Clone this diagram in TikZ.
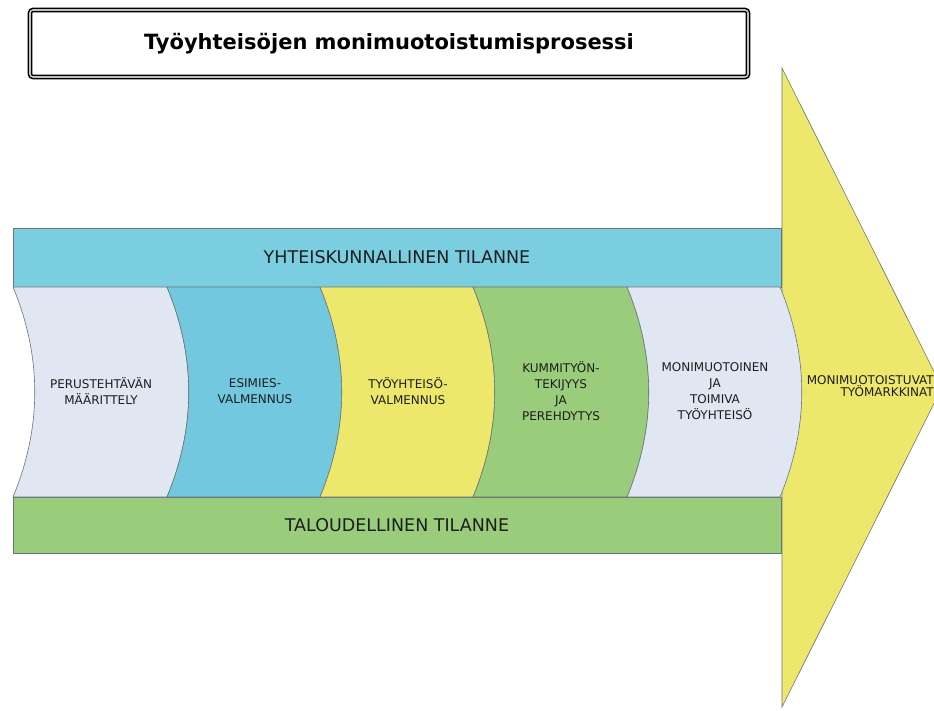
\documentclass[tikz,border=0pt]{standalone}
\usepackage{fontspec}
\setmainfont{DejaVu Sans}
\usepackage{xcolor}
\usepackage{tikz}
\usetikzlibrary{positioning}
\definecolor{Ink}{HTML}{1E1E1E}
\definecolor{Edge}{HTML}{6B7478}
\definecolor{SoftLav}{HTML}{E0E6F2}
\definecolor{Cyan}{HTML}{72C8DF}
\definecolor{BandCyan}{HTML}{7BCDE0}
\definecolor{Sun}{HTML}{EDE86C}
\definecolor{Leaf}{HTML}{99CC7B}

\begin{document}
\begin{tikzpicture}[x=1pt,y=-1pt,
    frame/.style={rectangle,draw=black,line width=1.5pt,double=gray!50,double distance=1.6pt,rounded corners=3pt,minimum width=718pt,minimum height=67pt,font=\fontsize{21}{24}\selectfont\bfseries},
    band/.style={rectangle,draw=Edge,line width=0.5pt,minimum width=768pt,align=center,text=Ink,font=\fontsize{17.5}{20}\selectfont},
    phase/.style={align=center,inner sep=0pt,text=Ink,font=\fontsize{12}{16}\selectfont},
    segment/.style={draw=Edge,line width=0.6pt},
]
\useasboundingbox (0,0) rectangle (934,711);
\clip (0,0) rectangle (934,711);
\fill[white] (0,0) rectangle (934,711);

\node[frame] (title) at (389,43.5) {Työyhteisöjen monimuotoistumisprosessi};

\path[draw=Edge,line width=0.6pt,fill=Sun] (782,68) -- (942,387.5) -- (782,707) -- cycle;

\node[band,fill=BandCyan,minimum height=59pt] (social) at (397,257.5) {YHTEISKUNNALLINEN TILANNE};
\node[band,fill=Leaf,minimum height=56pt,below=210pt of social] (economy) {TALOUDELLINEN TILANNE};

\path[segment,fill=SoftLav] (13,287) .. controls (42,357) and (42,427) .. (13,497) -- (167,497) .. controls (196,427) and (196,357) .. (167,287) -- cycle;
\path[segment,fill=Cyan] (167,287) .. controls (196,357) and (196,427) .. (167,497) -- (320,497) .. controls (349,427) and (349,357) .. (320,287) -- cycle;
\path[segment,fill=Sun] (320,287) .. controls (349,357) and (349,427) .. (320,497) -- (473,497) .. controls (502,427) and (502,357) .. (473,287) -- cycle;
\path[segment,fill=Leaf] (473,287) .. controls (502,357) and (502,427) .. (473,497) -- (627,497) .. controls (656,427) and (656,357) .. (627,287) -- cycle;
\path[segment,fill=SoftLav] (627,287) .. controls (656,357) and (656,427) .. (627,497) -- (780,497) .. controls (809,427) and (809,357) .. (780,287) -- cycle;

\node[phase] (define) at (101,391) {PERUSTEHTÄVÄN\\MÄÄRITTELY};
\node[phase] (lead) at (255,391) {ESIMIES-\\VALMENNUS};
\node[phase] (team) at (408,391) {TYÖYHTEISÖ-\\VALMENNUS};
\node[phase] (mentor) at (561,391) {KUMMITYÖN-\\TEKIJYYS\\JA\\PEREHDYTYS};
\node[phase] (diverse) at (715,391) {MONIMUOTOINEN\\JA\\TOIMIVA\\TYÖYHTEISÖ};
\node[phase,anchor=east,align=right,font=\fontsize{12}{12}\selectfont] (market) at (934,386) {MONIMUOTOISTUVAT\\TYÖMARKKINAT};
\end{tikzpicture}
\end{document}
